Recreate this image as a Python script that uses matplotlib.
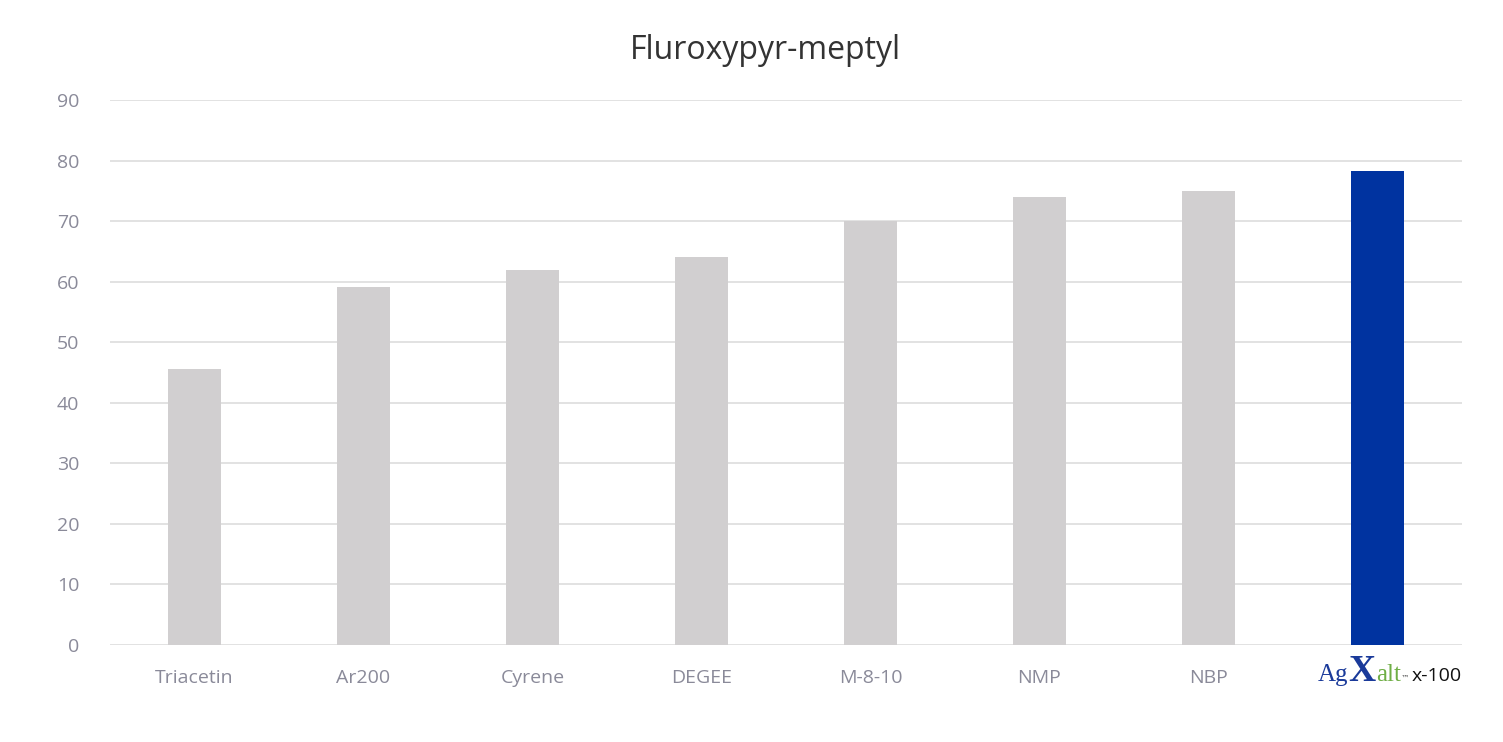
import matplotlib
matplotlib.use("Agg")
import matplotlib.pyplot as plt
from matplotlib.offsetbox import TextArea, HPacker, AnnotationBbox

categories = ["Triacetin", "Ar200", "Cyrene", "DEGEE", "M-8-10", "NMP", "NBP", "AgXalt x-100"]
values = [45.5, 59.2, 62.0, 64.0, 70.0, 74.0, 75.0, 78.2]
yticks = [0, 10, 20, 30, 40, 50, 60, 70, 80, 90]
title = "Fluroxypyr-meptyl"

grey = "#d1cfd0"
blue = "#0033a0"
colors = [grey] * 7 + [blue]

fig = plt.figure(figsize=(15.03, 7.42), dpi=100)
ax = fig.add_axes([0.0732, 0.1307, 0.8995, 0.7345])
x = list(range(len(categories)))
ax.bar(x, values, width=0.31, color=colors, zorder=3)
ax.set_xlim(-0.5, len(categories) - 0.5)
ax.set_ylim(0, 90)
ax.set_yticks(yticks)
ax.yaxis.grid(True, color="#e2e2e2", linewidth=1.4, zorder=0)
for s in ax.spines.values():
    s.set_visible(False)
ax.tick_params(axis="both", length=0, labelsize=14, labelcolor="#8a8a99")
ax.tick_params(axis="y", pad=22)
ax.tick_params(axis="x", pad=17)
ax.set_yticklabels([str(t) for t in yticks], family="Open Sans")
ax.set_xticks(x)
labels = categories[:-1] + [""]
ax.set_xticklabels(labels, family="Open Sans")

fig.text(0.509, 0.932, title, ha="center", va="center", fontsize=23, color="#333333", family="Open Sans")

# Logo-style last label
parts = [
    TextArea("Ag", textprops=dict(family="Liberation Serif", fontsize=18, color="#1a3a9a")),
    TextArea("X", textprops=dict(family="Liberation Serif", fontsize=27, color="#1a3a9a", weight="bold")),
    TextArea("alt", textprops=dict(family="Liberation Serif", fontsize=18, color="#6fae45")),
    TextArea("\u2122 ", textprops=dict(family="DejaVu Sans", fontsize=6, color="#444444")),
    TextArea("x-100", textprops=dict(family="Open Sans", fontsize=14, color="#111111")),
]
pack = HPacker(children=parts, align="baseline", pad=0, sep=0)
ab = AnnotationBbox(pack, (7, 0), xybox=(9, -19), xycoords=("data", "axes fraction"),
                    boxcoords="offset points", frameon=False, box_alignment=(0.5, 0.5))
ax.add_artist(ab)

fig.savefig("out.png", dpi=100)
